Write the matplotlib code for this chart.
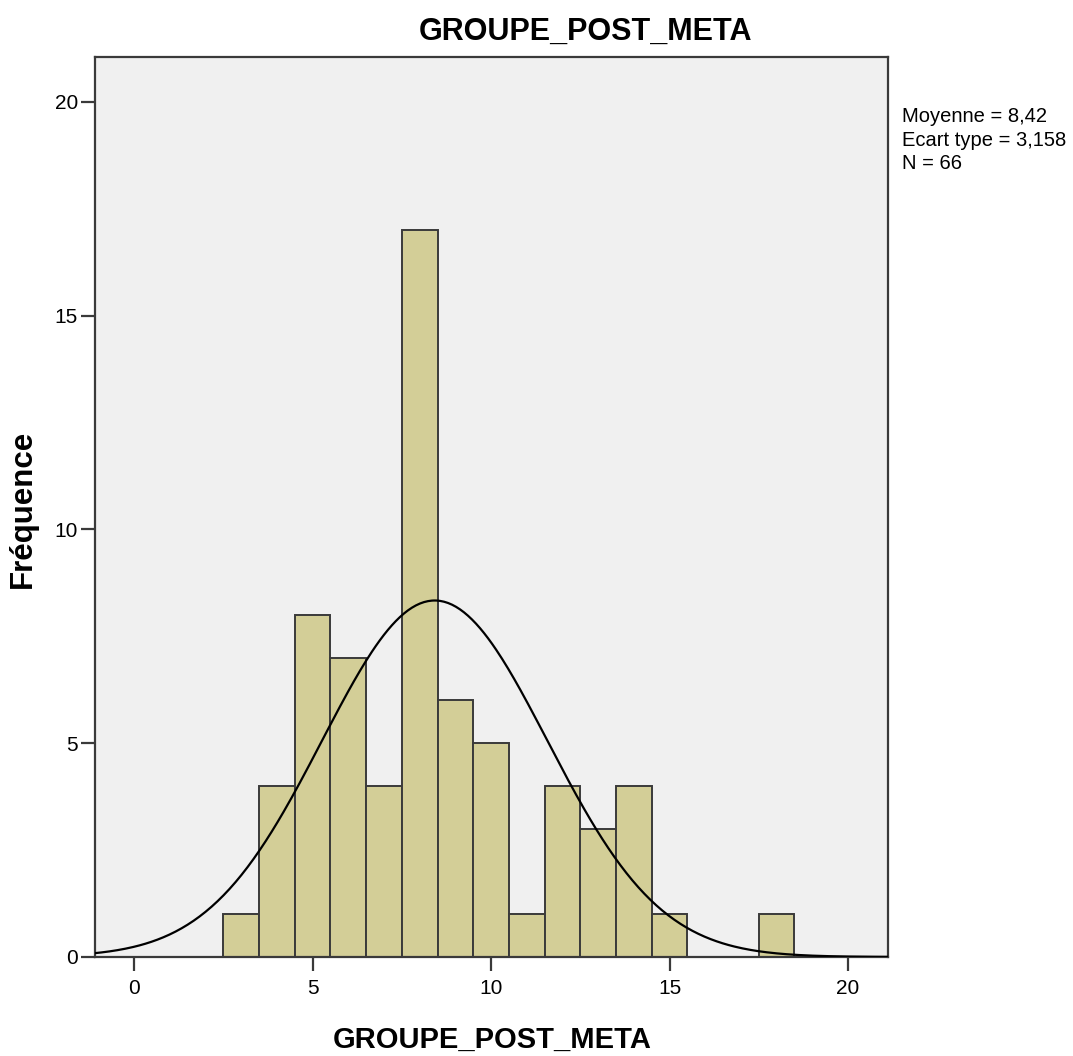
import numpy as np
import matplotlib
matplotlib.use('Agg')
import matplotlib.pyplot as plt

plt.rcParams['font.family'] = ['Liberation Sans', 'DejaVu Sans']

# histogram counts, bins centred on integer scores (width 1)
scores = [3, 4, 5, 6, 7, 8, 9, 10, 11, 12, 13, 14, 15, 18]
counts = [1, 4, 8, 7, 4, 17, 6, 5, 1, 4, 3, 4, 1, 1]
x_ticks = [0, 5, 10, 15, 20]
y_ticks = [0, 5, 10, 15, 20]
mean_val = 8.42
sd_val = 3.158
n_val = 66
title = 'GROUPE_POST_META'

fig = plt.figure(figsize=(10.73, 10.56), dpi=100)
ax = fig.add_axes([0.0881, 0.0938, 0.7395, 0.8522])
ax.set_facecolor('#f0f0f0')

ax.bar(scores, counts, width=1.0, color='#d3ce97', edgecolor='#3a3a3a',
       linewidth=1.4, zorder=2)

# fitted normal curve (SPSS overlay): N * bin width * pdf
xs = np.linspace(-1.2, 21.2, 400)
ys = n_val * 1.0 * np.exp(-0.5 * ((xs - mean_val) / sd_val) ** 2) / (sd_val * np.sqrt(2 * np.pi))
ax.plot(xs, ys, color='black', linewidth=1.6, zorder=3)

ax.set_xlim(-1.11, 21.12)
ax.set_ylim(0, 21.05)
ax.set_xticks(x_ticks)
ax.set_yticks(y_ticks)
for s in ax.spines.values():
    s.set_color('#3a3a3a')
    s.set_linewidth(1.6)
ax.tick_params(axis='x', length=10, width=1.6, color='#3a3a3a', labelsize=15, pad=6)
ax.tick_params(axis='y', length=10, width=1.6, color='#3a3a3a', labelsize=15, pad=2)

fig.text(585 / 1073, 1 - 32 / 1056, title, ha='center', va='center',
         fontsize=22, fontweight='bold')
fig.text(492 / 1073, 1 - 1040 / 1056, title, ha='center', va='center',
         fontsize=21, fontweight='bold')
fig.text(23 / 1073, 1 - 509 / 1056, 'Fréquence', ha='center', va='center',
         rotation=90, fontsize=22.5, fontweight='bold')

stats = f'Moyenne = {mean_val:.2f}\nEcart type = {sd_val:.3f}\nN = {n_val}'.replace('.', ',')
fig.text(902 / 1073, 1 - 107 / 1056, stats, ha='left', va='top',
         fontsize=14.5, linespacing=1.3)

fig.savefig('out.png', dpi=100)
